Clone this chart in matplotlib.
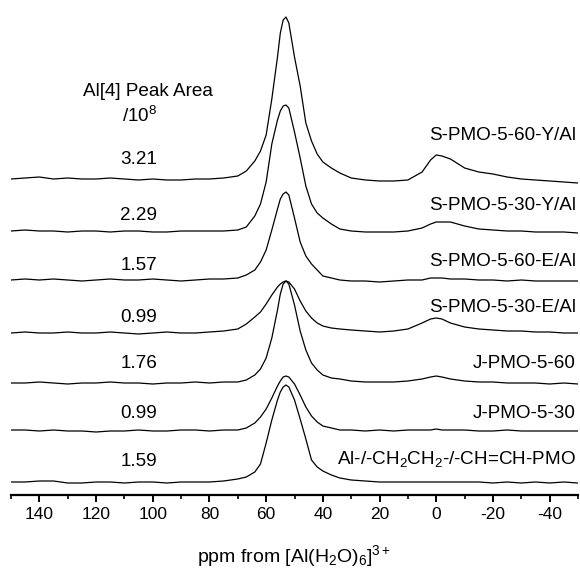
import matplotlib
matplotlib.use("Agg")
import matplotlib.pyplot as plt
from matplotlib.ticker import MultipleLocator

plt.rcParams['font.family'] = ['Liberation Sans', 'DejaVu Sans']
plt.rcParams['mathtext.fontset'] = 'custom'
plt.rcParams['mathtext.rm'] = 'Liberation Sans'
plt.rcParams['mathtext.it'] = 'Liberation Sans:italic'

# chemical shift grid (ppm)
ppm = [150, 145, 140, 135, 130, 125, 120, 115, 110, 105, 100, 95, 90, 85, 80, 75,
       70, 67, 64, 62, 60, 58, 56, 55, 54, 53, 52, 50, 48, 46, 44, 42, 40, 37, 34, 30,
       25, 20, 15, 10, 5, 2, 0, -2, -5,
       -10, -15, -20, -25, -30, -35, -40, -45, -50]

# intensities (a.u.)
s_60_y = [2, 3, 4, 2, 3, 2, 2, 3, 2, 1, 2, 1, 1, 2, 2, 3,
          5, 10, 20, 30, 46, 82, 124, 148, 161, 164, 158, 124, 95, 58, 40, 27, 19, 13, 8, 3,
          1, 0, 0, 1, 9, 21, 26, 25, 22,
          13, 9, 7, 4, 2, 1, 0, -1, -2]
s_30_y = [1, 2, 1, 1, 0, 1, 1, 0, 1, 1, 0, 0, 1, 1, 1, 1,
          2, 5, 16, 28, 50, 88, 112, 121, 126, 127, 124, 100, 74, 46, 28, 19, 14, 8, 3, 1,
          0, 0, 0, 1, 4, 8, 10, 10, 10,
          6, 3, 2, 1, 1, 0, 0, 0, -1]
s_60_e = [0, 1, 0, 1, 0, -1, 0, 1, 0, 0, 1, 0, -1, 0, 1, 1,
          2, 5, 10, 18, 30, 50, 71, 81, 86, 88, 85, 62, 38, 24, 16, 10, 4, 2, 0, -1,
          -1, -2, -1, 0, 0, 2, 2, 2, 1,
          1, 0, 0, -1, 0, -1, -1, -1, -1]
s_30_e = [0, 1, 0, 0, 1, 0, 0, 1, 0, -1, 0, 1, 0, 0, 1, 2,
          4, 9, 16, 21, 29, 38, 46, 49, 51, 52, 51, 44, 32, 22, 15, 10, 7, 5, 4, 3,
          2, 1, 2, 4, 10, 14, 15, 14, 10,
          6, 4, 3, 2, 2, 1, 1, 0, 0]
j_60 = [0, 0, 1, 0, -1, 0, 0, 1, 0, 0, -1, 0, 0, 1, 0, 1,
        1, 3, 8, 14, 25, 45, 73, 89, 99, 102, 99, 78, 52, 33, 20, 13, 8, 5, 4, 2,
        1, 1, 1, 2, 4, 6, 7, 6, 4,
        2, 1, 1, 0, 0, 0, -1, 0, -1]
j_30 = [1, 1, 0, 1, 0, 0, -1, 0, 0, 1, 0, 0, 1, 1, 0, 1,
        1, 3, 8, 14, 22, 33, 45, 50, 54, 55, 54, 47, 36, 24, 15, 9, 5, 3, 1, 1,
        0, 1, 0, 1, 1, 1, 2, 1, 1,
        1, 0, 0, 1, 0, 0, 0, 0, 0]
al_pmo = [1, 1, 2, 2, 0, 0, 1, 1, 0, 1, 1, 0, 1, 1, 1, 2,
          4, 6, 11, 19, 40, 63, 83, 91, 96, 98, 96, 83, 64, 44, 23, 16, 12, 8, 5, 3,
          2, 1, 1, 1, 1, 1, 1, 1, 1,
          1, 1, 0, 1, 0, 1, 0, 1, 0]

spectra = [s_60_y, s_30_y, s_60_e, s_30_e, j_60, j_30, al_pmo]
sample_names = ['S-PMO-5-60-Y/Al', 'S-PMO-5-30-Y/Al', 'S-PMO-5-60-E/Al',
                'S-PMO-5-30-E/Al', 'J-PMO-5-60', 'J-PMO-5-30',
                'Al-/-CH$_2$CH$_2$-/-CH=CH-PMO']
peak_areas = ['3.21', '2.29', '1.57', '0.99', '1.76', '0.99', '1.59']
xticks = [140, 120, 100, 80, 60, 40, 20, 0, -20, -40]

# layout (vertical stacking offsets and label positions, in axis units)
offsets = [314, 263, 215, 162, 112, 64, 12]
name_y = [359, 289, 234, 187, 131, 82, 36]
area_y = [336, 279, 229, 178, 131, 82, 34]

fig = plt.figure(figsize=(5.8, 5.68), dpi=100)
ax = fig.add_axes([11 / 580, 73 / 568, 567 / 580, 495 / 568])
ax.set_xlim(150, -50)
ax.set_ylim(0, 495)

for spec, off in zip(spectra, offsets):
    ax.plot(ppm, [v + off for v in spec], color='black', lw=0.9)

fs = 13.6
for name, y in zip(sample_names, name_y):
    ax.text(-49.3, y, name, ha='right', va='center', fontsize=fs)
for a, y in zip(peak_areas, area_y):
    ax.text(105.0, y, a, ha='center', va='center', fontsize=fs)
ax.text(101.8, 404, 'Al[4] Peak Area', ha='center', va='center', fontsize=fs)
ax.text(104.6, 379, '/10$^8$', ha='center', va='center', fontsize=fs)

for s in ['left', 'right', 'top']:
    ax.spines[s].set_visible(False)
ax.spines['bottom'].set_linewidth(1.6)
ax.set_yticks([])
ax.set_xticks(xticks)
ax.xaxis.set_minor_locator(MultipleLocator(10))
ax.tick_params(axis='x', which='major', direction='out', length=5, width=1.4,
               labelsize=12.5, pad=3.5)
ax.tick_params(axis='x', which='minor', direction='out', length=3, width=1.2)
ax.set_xticklabels([str(t) for t in xticks])
ax.set_xlabel('ppm from [Al(H$_2$O)$_6$]$^{3+}$', fontsize=14, labelpad=15)

fig.savefig('out.png', dpi=100)
